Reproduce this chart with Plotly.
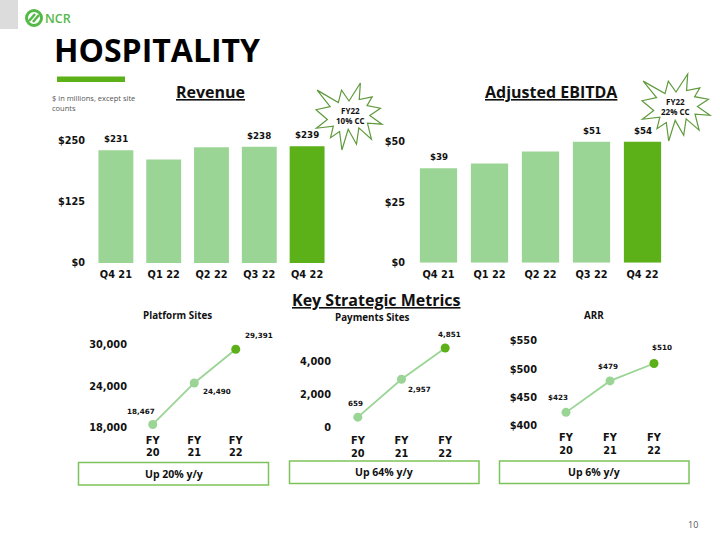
import plotly.graph_objects as go

# ---------------- data ----------------
quarters = ["Q4 21", "Q1 22", "Q2 22", "Q3 22", "Q4 22"]
revenue = [231, 212, 237, 238, 239]
revenue_labels = ["$231", "", "", "$238", "$239"]
ebitda = [39, 41, 46, 51, 54]
ebitda_labels = ["$39", "", "", "$51", "$54"]
revenue_ticks = [0, 125, 250]
revenue_ticktext = ["$0", "$125", "$250"]
ebitda_ticks = [0, 25, 50]
ebitda_ticktext = ["$0", "$25", "$50"]

years = ["FY<br>20", "FY<br>21", "FY<br>22"]
platform_sites = [18467, 24490, 29391]
platform_labels = ["18,467", "24,490", "29,391"]
platform_ticks = [18000, 24000, 30000]
platform_ticktext = ["18,000", "24,000", "30,000"]
payments_sites = [659, 2957, 4851]
payments_labels = ["659", "2,957", "4,851"]
payments_ticks = [0, 2000, 4000]
payments_ticktext = ["0", "2,000", "4,000"]
arr = [423, 479, 510]
arr_labels = ["$423", "$479", "$510"]
arr_ticks = [400, 450, 500, 550]
arr_ticktext = ["$400", "$450", "$500", "$550"]
growth = ["Up 20% y/y", "Up 64% y/y", "Up 6% y/y"]

# ---------------- styling helpers ----------------
W, H = 720, 540
def px(x): return x / W
def py(y): return 1 - y / H

LIGHT = "#9bd595"
DARK = "#5bb117"
BRAND = "#54b948"
FONT = "Open Sans"
CHART_FONT = "DejaVu Sans"
INK = "#111111"

fig = go.Figure()

def bar_colors(n):
    return [LIGHT] * (n - 1) + [DARK]

# bar charts
fig.add_trace(go.Bar(x=quarters, y=revenue, marker_color=bar_colors(len(revenue)),
                     marker_line_width=0, xaxis="x", yaxis="y", hoverinfo="skip"))
fig.add_trace(go.Bar(x=quarters, y=ebitda, marker_color=bar_colors(len(ebitda)),
                     marker_line_width=0, xaxis="x2", yaxis="y2", hoverinfo="skip"))

# line charts
def line_trace(vals, xa, ya):
    return go.Scatter(x=years, y=vals, mode="lines+markers",
                      line=dict(color=LIGHT, width=1.8),
                      marker=dict(size=9, color=bar_colors(len(vals))),
                      cliponaxis=False, xaxis=xa, yaxis=ya, hoverinfo="skip")

fig.add_trace(line_trace(platform_sites, "x3", "y3"))
fig.add_trace(line_trace(payments_sites, "x4", "y4"))
fig.add_trace(line_trace(arr, "x5", "y5"))

annotations = []
shapes = []

# bar value labels
def bar_labels(xref, yref, vals, labels, ymax):
    for q, v, t in zip(quarters, vals, labels):
        if t:
            annotations.append(dict(x=q, y=min(v, ymax), xref=xref, yref=yref, text=t,
                                    showarrow=False, yanchor="bottom", yshift=4,
                                    font=dict(family=CHART_FONT, size=8.7, color=INK, weight="bold")))

bar_labels("x", "y", revenue, revenue_labels, 250)
bar_labels("x2", "y2", ebitda, ebitda_labels, 50)

# line value labels
def line_labels(xref, yref, vals, labels, offsets):
    for yr, v, t, (dx, dy) in zip(years, vals, labels, offsets):
        annotations.append(dict(x=yr, y=v, xref=xref, yref=yref, text=t, showarrow=False,
                                xshift=dx, yshift=dy,
                                font=dict(family=CHART_FONT, size=7.2, color=INK, weight="bold")))

line_labels("x3", "y3", platform_sites, platform_labels, [(-12, 13), (23, -9), (23, 14)])
line_labels("x4", "y4", payments_sites, payments_labels, [(-2, 14), (18, -10), (4, 13)])
line_labels("x5", "y5", arr, arr_labels, [(-8, 15), (-2, 14), (8, 16)])

def text(x, y, t, size, color=INK, weight="normal", xanchor="center", yanchor="middle", align="center", family=FONT):
    annotations.append(dict(x=px(x), y=py(y), xref="paper", yref="paper", text=t,
                            showarrow=False, xanchor=xanchor, yanchor=yanchor, align=align,
                            font=dict(family=family, size=size, color=color, weight=weight)))

# header
shapes.append(dict(type="rect", xref="paper", yref="paper", x0=px(0), x1=px(18), y0=py(0), y1=py(29),
                   fillcolor="#dcdcdc", line_width=0))
shapes.append(dict(type="circle", xref="paper", yref="paper", x0=px(26.5), x1=px(41.5), y0=py(10.5), y1=py(25.5),
                   line=dict(color=BRAND, width=3)))
shapes.append(dict(type="line", xref="paper", yref="paper", x0=px(29), x1=px(35), y0=py(21), y1=py(14),
                   line=dict(color=BRAND, width=2.5)))
shapes.append(dict(type="line", xref="paper", yref="paper", x0=px(33), x1=px(39), y0=py(22), y1=py(15),
                   line=dict(color=BRAND, width=2.5)))
text(42.5, 18.5, "NCR", 12.5, color=BRAND, weight=600, xanchor="left")
text(52, 50, "HOSPITALITY", 32, color="#000000", weight="bold", xanchor="left")
shapes.append(dict(type="rect", xref="paper", yref="paper", x0=px(57), x1=px(125), y0=py(76.5), y1=py(82),
                   fillcolor=DARK, line_width=0))
text(50, 103, "$ in millions, except site<br>counts", 7.5, color="#555555", xanchor="left", align="left")

# section titles
text(210, 92, "<u>Revenue</u>", 16, weight="bold")
text(551.5, 92, "<u>Adjusted EBITDA</u>", 16, weight="bold")
text(376, 300, "<u>Key Strategic Metrics</u>", 16, weight="bold")
text(177.5, 315.5, "Platform Sites", 9.8, weight="bold")
text(372.5, 317.5, "Payments Sites", 9.8, weight="bold")
text(594, 315.5, "ARR", 9.8, weight="bold")

# starbursts (PowerPoint "Explosion 1" outline)
SEAL = [(10800, 5800), (14522, 0), (14155, 5325), (18380, 4457), (16702, 7315), (21097, 8137),
        (17607, 10475), (21600, 13290), (16837, 12942), (18145, 18095), (14020, 14457),
        (13247, 19737), (10532, 14935), (8485, 21600), (7715, 15627), (4762, 17617),
        (5667, 13937), (135, 14587), (3722, 11775), (0, 8615), (4627, 7617), (370, 2295),
        (7312, 6320), (8352, 2295)]

def star(x0, y0, x1, y1, label, tx, ty):
    pts = []
    for sx, sy in SEAL:
        X = px(x0 + (x1 - x0) * sx / 21600)
        Y = py(y0 + (y1 - y0) * sy / 21600)
        pts.append(f"{X:.5f},{Y:.5f}")
    path = "M " + " L ".join(pts) + " Z"
    shapes.append(dict(type="path", xref="paper", yref="paper", path=path,
                       fillcolor="white", line=dict(color="#5f9a3c", width=1.2)))
    text(tx, ty, label, 8, weight="bold")

star(316, 83, 382, 150, "FY22<br>10% CC", 350, 115)
star(642, 74, 710, 141, "FY22<br>22% CC", 675, 106.5)

# growth boxes
for (x0, y0, x1, y1), g in zip([(78.5, 462.5, 268.5, 485), (289.5, 461, 479, 483.5), (499.5, 461, 689, 483.5)], growth):
    shapes.append(dict(type="rect", xref="paper", yref="paper", x0=px(x0), x1=px(x1), y0=py(y1), y1=py(y0),
                       line=dict(color="#7cc35a", width=1.5), fillcolor="rgba(0,0,0,0)"))
    text((x0 + x1) / 2, (y0 + y1) / 2, g, 10.5, weight="bold")

# page number
text(693, 524, "10", 9, color="#555555")

def xax(dom, size, standoff, rng=None):
    d = dict(domain=[px(dom[0]), px(dom[1])], showgrid=False, zeroline=False, showline=False,
             ticks="", tickfont=dict(family=CHART_FONT, size=size, color=INK, weight="bold"),
             ticklabelstandoff=standoff, fixedrange=True)
    if rng is not None:
        d["range"] = rng
    return d

def yax(dom, rng, tv, tt, size, anchor_x, standoff):
    return dict(domain=[py(dom[1]), py(dom[0])], range=rng, tickvals=tv, ticktext=tt,
                showgrid=False, zeroline=False, showline=False, ticks="",
                tickfont=dict(family=CHART_FONT, size=size, color=INK, weight="bold"),
                anchor=anchor_x, ticklabelstandoff=standoff, fixedrange=True)

fig.update_layout(
    width=W, height=H, margin=dict(l=0, r=0, t=0, b=0, autoexpand=False),
    paper_bgcolor="white", plot_bgcolor="white", showlegend=False,
    bargap=0.27,
    xaxis=dict(xax((92, 331), 9.8, 4), anchor="y"),
    yaxis=yax((141, 263), [0, 250], revenue_ticks, revenue_ticktext, 9.7, "x", 6),
    xaxis2=dict(xax((413, 668), 9.8, 4), anchor="y2"),
    yaxis2=yax((141.7, 262.7), [0, 50], ebitda_ticks, ebitda_ticktext, 9.7, "x2", 7),
    xaxis3=dict(xax((132, 256.5), 9.8, 5, [-0.5, 2.5]), anchor="y3"),
    yaxis3=yax((345, 427.7), [18000, 30000], platform_ticks, platform_ticktext, 9.8, "x3", 4),
    xaxis4=dict(xax((336, 467), 9.8, 5, [-0.5, 2.5]), anchor="y4"),
    yaxis4=yax((345.5, 428), [0, 5000], payments_ticks, payments_ticktext, 9.8, "x4", 4),
    xaxis5=dict(xax((544, 676), 9.8, 5, [-0.5, 2.5]), anchor="y5"),
    yaxis5=yax((341, 425.3), [400, 550], arr_ticks, arr_ticktext, 9.8, "x5", 6),
    annotations=annotations, shapes=shapes,
)

post = ("document.documentElement.style.margin='0';"
        "document.body.style.margin='0';document.body.style.overflow='hidden';"
        "document.documentElement.style.overflow='hidden';"
        "Plotly.relayout('{plot_id}', {width: 720, height: 540});")

fig.write_html("out.html", config={"responsive": False, "displayModeBar": False}, post_script=post)
